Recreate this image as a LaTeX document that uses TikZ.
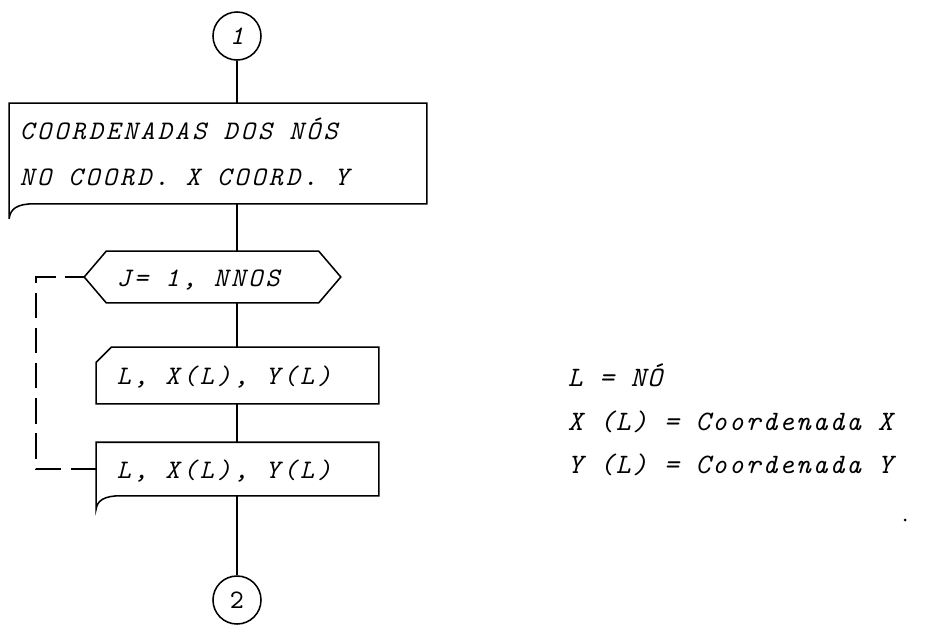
\documentclass[tikz,border=0pt]{standalone}
\usepackage{fontspec}
\newfontfamily\typerfont{lmmono10}[Extension=.otf, UprightFont=*-regular, ItalicFont=*-italic, LetterSpace=12]
\newfontfamily\legendfont{lmmono10}[Extension=.otf, UprightFont=*-regular, ItalicFont=*-italic, LetterSpace=7]
\usetikzlibrary{calc}
\newcommand{\flowtext}[2]{\makebox[#1][l]{\begin{tabular}{@{}l@{}}#2\end{tabular}}}

\begin{document}
\begin{tikzpicture}[
    x=0.025cm, y=-0.025cm, line width=1.1pt,
    typed/.style={font=\typerfont\itshape\fontsize{19pt}{32.6pt}\selectfont},
    connector/.style={circle, draw, minimum size=1.2cm, inner sep=0pt, typed},
    flowbox/.style={rectangle, typed, inner sep=0pt},
    legend/.style={font=\legendfont\itshape\fontsize{20pt}{24pt}\selectfont, anchor=base west, inner sep=0pt},
    loopline/.style={dash pattern=on 18pt off 7pt},
]
\useasboundingbox (0,0) rectangle (940,625);

% flowchart
\node[connector] (c1) at (237,36) {1};
\node[flowbox, minimum width=10.4cm, minimum height=2.475cm] (coord) at (218,153.5)
    {\flowtext{9.9cm}{COORDENADAS DOS NÓS\\NO COORD. X COORD. Y}};
\node[flowbox, minimum width=6.375cm, minimum height=1.25cm] (loop) at (212.5,277) {\flowtext{4.775cm}{J= 1, NNOS}};
\node[flowbox, minimum width=7.025cm, minimum height=1.375cm] (read) at (237.5,375.5) {\flowtext{6.025cm}{L, X(L), Y(L)}};
\node[flowbox, minimum width=7.025cm, minimum height=1.3cm] (write) at (237.5,469) {\flowtext{6.025cm}{L, X(L), Y(L)}};
\node[connector, font=\typerfont\upshape\fontsize{19pt}{20pt}\selectfont] (c2) at (237,600) {2};

% outlines
\draw (coord.north west) -- (coord.north east) -- (coord.south east) -- ($(coord.south west)+(25,0)$)
    .. controls ($(coord.south west)+(8,0)$) and ($(coord.south west)+(1,5)$) .. ($(coord.south west)+(0,15)$) -- cycle;
\draw (loop.west) -- ($(loop.north west)+(22,0)$) -- ($(loop.north east)+(-22,0)$) -- (loop.east)
    -- ($(loop.south east)+(-22,0)$) -- ($(loop.south west)+(22,0)$) -- cycle;
\draw ($(read.north west)+(15,0)$) -- (read.north east) -- (read.south east) -- (read.south west)
    -- ($(read.north west)+(0,15)$) -- cycle;
\draw (write.north west) -- (write.north east) -- (write.south east) -- ($(write.south west)+(24,0)$)
    .. controls ($(write.south west)+(8,0)$) and ($(write.south west)+(1,5)$) .. ($(write.south west)+(0,13)$) -- cycle;

% connectors
\draw (c1) -- (c1 |- coord.north);
\draw (c1 |- coord.south) -- (c1 |- loop.north);
\draw (c1 |- loop.south) -- (c1 |- read.north);
\draw (c1 |- read.south) -- (c1 |- write.north);
\draw (c1 |- write.south) -- (c2);
\draw[loopline] (write.west) -- ++(-60,0) |- (loop.west);

% legend
\node[legend] (lno) at (567,386) {L = NÓ};
\node[legend] (lx) at (567,430) {X (L) = Coordenada X};
\node[legend] (ly) at (567,473) {Y (L) = Coordenada Y};
\fill (905,520) circle (1.5);
\end{tikzpicture}
\end{document}
